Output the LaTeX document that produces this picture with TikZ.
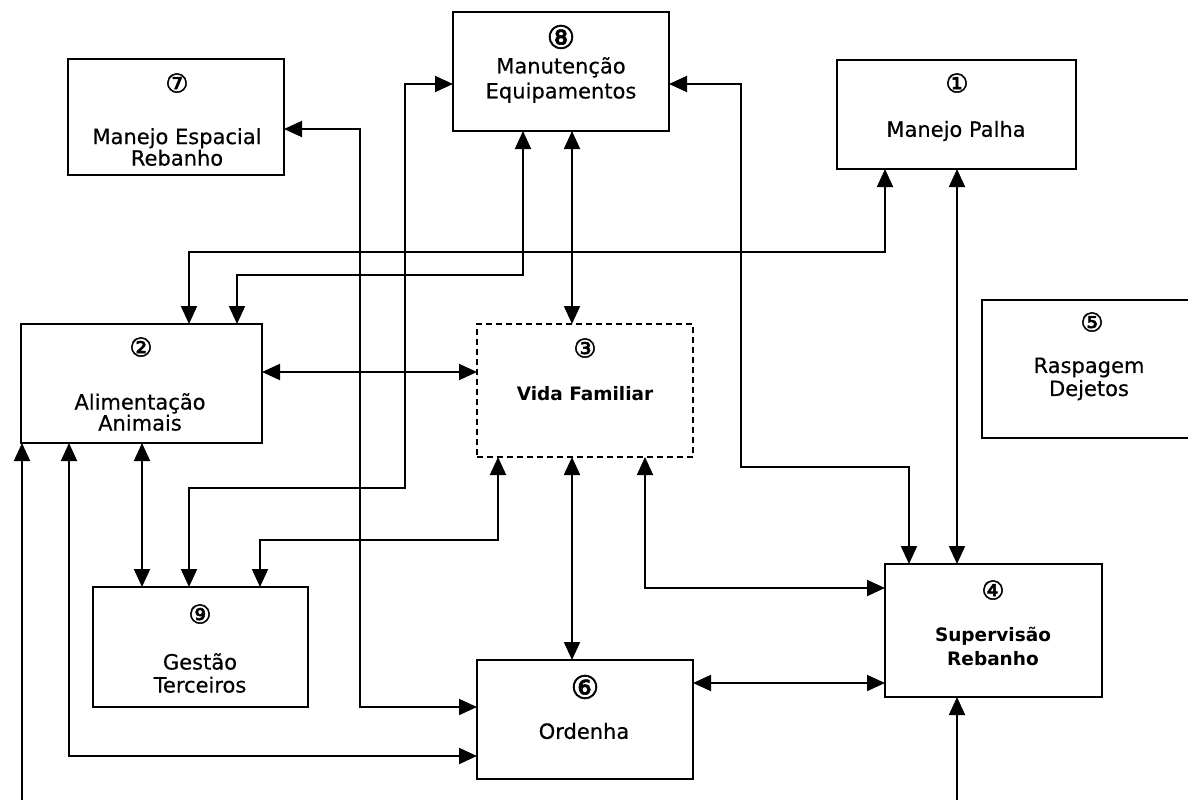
\documentclass[tikz,border=0pt]{standalone}
\usepackage{fontspec}
\setmainfont[FakeBold=0.4]{DejaVu Sans}
\newfontfamily\numfont[FakeBold=2]{DejaVu Sans}
\newfontfamily\heavyfont{DejaVu Sans Bold}
\usetikzlibrary{arrows.meta}
\begin{document}
\begin{tikzpicture}[>={Triangle[length=18pt,width=16pt]},x=1pt,y=-1pt,
		box/.style={draw,line width=1.9pt,inner sep=0pt,outer sep=0pt},
		num/.style={inner sep=0pt,font=\numfont\fontsize{26}{26}\selectfont},
		bignum/.style={inner sep=0pt,font=\numfont\fontsize{32}{32}\selectfont},
		lbl/.style={align=center,inner sep=0pt},
		link/.style={<->,line width=1.9pt}]
		\clip (0,0) rectangle (1188,800);
		% boxes
		\node[box,minimum width=216pt,minimum height=119pt] (b8) at (561,71.5) {};
		\node[bignum] (n8) at (561,37) {⑧};
		\node[lbl,font=\fontsize{21}{25}\selectfont] (t8) at (561,80) {Manutenção\\Equipamentos};
		\node[box,minimum width=216pt,minimum height=116pt] (b7) at (176,117) {};
		\node[num] (n7) at (177,83) {⑦};
		\node[lbl,font=\fontsize{21}{21.5}\selectfont] (t7) at (177,147) {Manejo Espacial\\Rebanho};
		\node[box,minimum width=239pt,minimum height=109pt] (b1) at (956.5,114.5) {};
		\node[num] (n1) at (957,83) {①};
		\node[lbl,font=\fontsize{21}{23}\selectfont] (t1) at (956,131) {Manejo Palha};
		\node[box,minimum width=215pt,minimum height=138pt] (b5) at (1089.5,369) {};
		\node[num] (n5) at (1092,322) {⑤};
		\node[lbl,font=\fontsize{21}{23}\selectfont] (t5) at (1089,379) {Raspagem\\Dejetos};
		\node[box,minimum width=241pt,minimum height=119pt] (b2) at (141.5,383.5) {};
		\node[num] (n2) at (141,347) {②};
		\node[lbl,font=\fontsize{21}{20}\selectfont] (t2) at (140,412) {Alimentação\\Animais};
		\node[box,dash pattern=on 6pt off 4pt,minimum width=216pt,minimum height=133pt] (b3) at (585,390.5) {};
		\node[num] (n3) at (585,348) {③};
		\node[lbl,font=\heavyfont\fontsize{18.5}{23}\selectfont] (t3) at (585,394) {Vida Familiar};
		\node[box,minimum width=215pt,minimum height=120pt] (b9) at (200.5,647) {};
		\node[num] (n9) at (200,614) {⑨};
		\node[lbl,font=\fontsize{21}{23}\selectfont] (t9) at (200,673) {Gestão\\Terceiros};
		\node[box,minimum width=216pt,minimum height=119pt] (b6) at (585,719.5) {};
		\node[bignum] (n6) at (585,687) {⑥};
		\node[lbl,font=\fontsize{21}{23}\selectfont] (t6) at (584,731) {Ordenha};
		\node[box,minimum width=217pt,minimum height=133pt] (b4) at (993.5,630.5) {};
		\node[num] (n4) at (993,590) {④};
		\node[lbl,font=\heavyfont\fontsize{18.5}{24}\selectfont] (t4) at (993,646) {Supervisão\\Rebanho};
		% connectors
		\draw[link] (b7.east |- 0,129) -- (360,129) |- (b6.west |- 0,707);
		\draw[link] (b8.west |- 0,84) -| (405,488) -| (b9.north -| 189,0);
		\draw[link] (b8.south -| 523,0) |- (237,275) -- (b2.north -| 237,0);
		\draw[link] (b8.south -| 572,0) -- (b3.north -| 572,0);
		\draw[link] (b8.east |- 0,84) -| (741,467) -| (b4.north -| 909,0);
		\draw[link] (b1.south -| 885,0) |- (189,252) -- (b2.north -| 189,0);
		\draw[link] (b1.south -| 957,0) -- (b4.north -| 957,0);
		\draw[link] (b2.east |- 0,372) -- (b3.west |- 0,372);
		\draw[link] (b2.south -| 142,0) -- (b9.north -| 142,0);
		\draw[link] (b2.south -| 69,0) |- (b6.west |- 0,756);
		\draw[link] (b3.south -| 498,0) |- (260,540) -- (b9.north -| 260,0);
		\draw[link] (b3.south -| 572,0) -- (b6.north -| 572,0);
		\draw[link] (b3.south -| 645,0) |- (b4.west |- 0,588);
		\draw[link] (b6.east |- 0,683) -- (b4.west |- 0,683);
		\coordinate (in2) at (22,805);
		\coordinate (in4) at (957,805);
		\draw[->,line width=1.9pt] (in2) -- (b2.south -| in2);
		\draw[->,line width=1.9pt] (in4) -- (b4.south -| in4);
\end{tikzpicture}
\end{document}
